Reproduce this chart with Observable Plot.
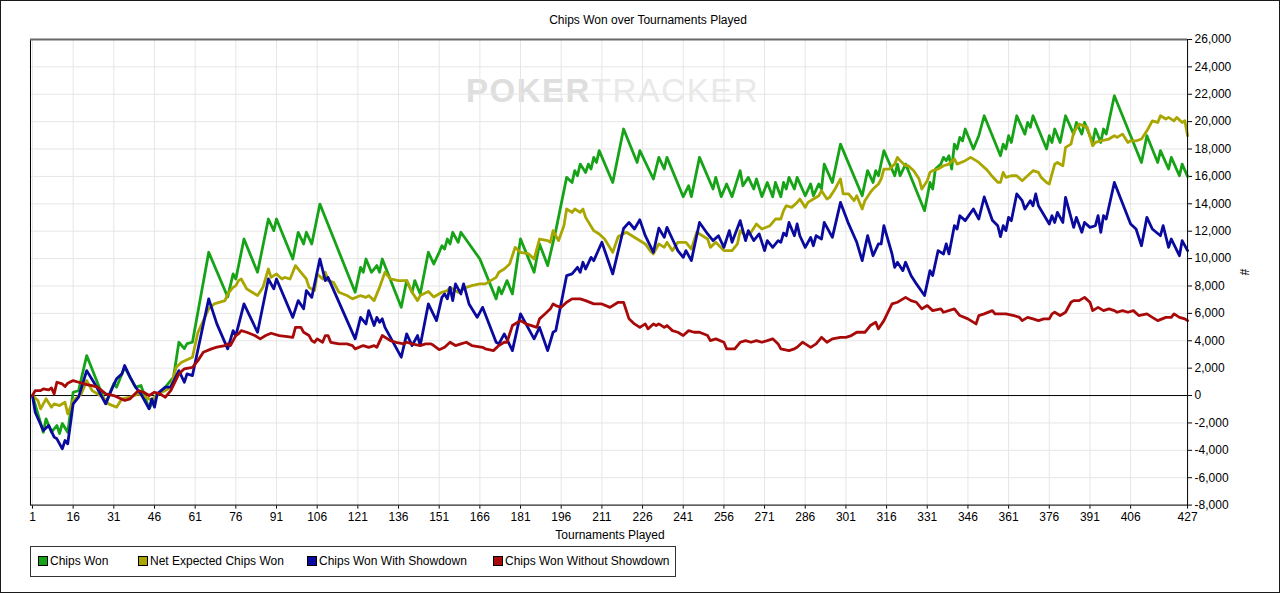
<!DOCTYPE html>
<html><head><meta charset="utf-8">
<script src="https://cdn.jsdelivr.net/npm/d3@7"></script>
<script src="https://cdn.jsdelivr.net/npm/@observablehq/plot@0.6"></script>
<style>
html,body{margin:0;padding:0;background:#fff;}
#wrap{position:relative;width:1280px;height:593px;box-sizing:border-box;border:1px solid #1a1a1a;overflow:hidden;font-family:"Liberation Sans",Arial,sans-serif;color:#000;background:#fff;}
#chart{position:absolute;left:-1px;top:-1px;}
#wm{position:absolute;left:465px;top:73px;font-size:33px;color:#dedede;letter-spacing:1.5px;white-space:nowrap;line-height:33px;}
#wm .b{font-weight:bold;}
#wm .l{color:#e9e9e9;}
#title{position:absolute;left:0;top:12px;width:1294px;text-align:center;font-size:12px;}
#xlabel{position:absolute;left:0;top:527px;width:1218px;text-align:center;font-size:12px;}
#ylabel{position:absolute;left:1240px;top:264px;font-size:12px;transform:rotate(90deg);}
#legend{position:absolute;left:29px;top:545px;width:646px;height:31px;box-sizing:border-box;border:1px solid #333;font-size:12px;}
.item{position:absolute;top:8px;white-space:nowrap;line-height:13px;}
.sw{display:inline-block;width:8px;height:8px;border:1px solid #000;margin-right:2px;vertical-align:-1px;}
</style></head><body>
<div id="wrap">
  <div id="wm"><span class="b">POKER</span><span class="l">TRACKER</span></div>
  <div id="chart"></div>
  <div id="title">Chips Won over Tournaments Played</div>
  <div id="xlabel">Tournaments Played</div>
  <div id="ylabel">#</div>
  <div id="legend"></div>
</div>
<script>
// ---- data: [tournament, chips] ----
const chipsWon = [[1,0],[5,-2680],[6,-1700],[8,-2680],[10,-2190],[11,-2770],[12,-2040],[14,-2680],[16,240],[18,360],[21,2920],[28,-580],[31,880],[32,610],[35,2060],[36,1700],[39,610],[41,730],[44,-950],[47,0],[50,610],[53,1340],[55,3890],[57,3430],[58,3790],[60,3890],[66,10460],[73,7200],[75,8880],[76,8510],[79,11430],[84,9000],[88,12890],[90,12040],[91,12890],[97,9970],[99,11920],[101,11070],[102,11920],[104,11070],[107,13980],[120,7540],[122,9360],[123,9000],[124,9970],[126,9000],[128,9490],[129,9000],[130,9970],[137,6440],[139,8390],[141,7540],[142,8390],[144,7420],[147,10460],[149,9610],[151,10460],[152,10940],[153,10700],[154,11430],[155,11070],[156,11920],[158,11190],[159,11920],[166,9970],[172,7060],[173,7900],[174,7420],[176,8390],[178,7420],[181,11430],[186,9000],[188,11070],[191,9490],[194,12040],[198,15930],[200,15560],[201,16420],[202,16050],[203,16900],[205,16290],[206,16900],[207,16540],[208,17390],[209,17020],[210,17880],[215,15560],[219,19460],[224,17020],[225,17880],[230,15810],[232,17390],[234,16540],[235,17390],[241,14520],[243,15320],[244,14520],[247,17390],[252,15080],[253,15930],[255,14520],[257,15450],[259,14520],[262,16420],[263,15320],[265,15930],[267,15080],[268,15810],[270,14520],[272,15560],[274,14520],[275,15560],[277,14520],[278,15560],[279,15080],[280,15930],[282,15080],[283,15930],[286,14590],[288,15450],[289,14590],[291,15450],[292,15080],[293,16900],[296,15560],[299,18360],[307,14590],[309,16420],[311,15560],[312,16420],[313,16050],[315,17880],[319,16050],[320,16900],[321,16050],[323,16900],[330,13500],[332,15560],[333,15080],[334,16540],[336,16900],[337,17390],[338,17150],[339,17510],[340,16540],[341,18360],[342,18000],[343,18850],[344,18600],[345,19460],[348,18000],[350,18970],[352,20430],[358,17510],[359,18360],[360,18000],[361,18970],[362,18480],[364,20430],[367,19090],[368,19940],[369,19580],[370,20430],[375,18000],[376,18970],[377,18480],[378,19460],[380,18480],[382,20430],[385,19090],[386,19940],[388,19090],[389,19940],[392,18480],[393,19460],[395,18480],[396,19460],[397,19090],[400,21890],[410,17020],[412,18970],[416,17020],[417,17880],[420,16540],[421,17390],[424,16050],[425,16900],[427,16000]];

const netExpected = [[1,0],[3,-360],[4,-970],[6,-240],[8,-850],[9,-610],[11,-730],[13,-490],[14,-1340],[16,-360],[19,120],[21,1090],[23,360],[24,240],[27,-120],[29,-610],[32,-850],[34,-240],[37,-120],[40,120],[43,-120],[45,-360],[47,120],[50,360],[52,610],[54,2060],[56,2430],[60,2800],[62,4600],[66,6330],[68,6690],[72,6930],[73,7420],[75,7900],[76,8030],[77,8390],[78,8510],[80,7790],[82,7540],[84,7300],[86,7900],[88,9240],[89,8630],[91,8880],[93,8510],[94,8630],[96,8510],[98,9490],[100,9000],[102,8510],[103,7900],[105,7660],[106,8880],[108,8510],[109,9000],[110,8390],[112,8270],[114,7540],[117,7300],[119,7060],[122,7300],[124,7170],[125,7300],[127,6930],[129,7900],[131,9000],[133,8510],[136,8390],[139,8390],[141,7540],[143,6930],[144,7300],[147,7600],[149,7200],[152,7540],[154,7660],[155,7900],[158,7540],[161,7900],[163,8030],[166,8150],[168,8150],[170,8390],[172,8630],[173,9000],[175,9240],[177,9610],[179,10820],[181,10460],[184,10340],[186,9970],[188,11430],[191,11310],[192,11190],[193,12040],[195,11310],[197,12400],[198,13620],[200,13370],[201,13620],[203,13370],[204,13620],[205,13010],[208,12040],[210,11800],[212,11430],[215,10460],[217,11600],[220,11920],[224,11430],[227,11070],[229,10520],[230,10340],[232,11070],[234,10820],[235,11190],[237,10580],[239,11190],[242,11190],[244,10700],[246,11920],[250,11430],[251,10820],[253,11190],[256,10580],[259,10580],[261,11070],[262,12040],[264,11670],[266,11920],[268,12530],[270,12160],[273,12400],[275,12890],[277,12890],[278,13500],[279,13860],[281,13740],[283,14100],[284,14350],[286,13740],[287,14100],[289,14350],[291,14590],[292,14960],[294,14350],[295,14470],[297,15080],[298,15450],[299,15810],[300,14720],[302,14720],[304,14230],[305,14590],[307,13620],[308,14230],[310,14830],[311,15080],[313,15450],[314,15810],[315,16540],[317,16540],[319,16900],[320,17390],[321,17150],[323,16780],[324,16780],[326,16420],[328,15810],[329,15080],[331,15690],[332,16290],[333,16420],[335,16540],[337,16780],[339,16900],[341,17270],[342,16900],[345,17150],[347,17390],[349,17150],[350,17020],[353,16480],[355,15990],[357,15570],[358,15560],[359,16290],[360,15930],[362,16050],[364,16050],[366,15690],[368,16050],[370,16420],[372,16290],[373,15930],[375,15560],[376,15450],[378,16900],[379,17020],[381,16780],[382,18120],[384,18360],[385,19210],[387,19820],[390,19580],[392,18240],[393,18480],[395,18600],[398,18730],[400,18970],[401,18850],[403,19090],[405,18480],[406,18600],[408,18600],[410,18730],[412,19330],[414,20060],[416,19940],[417,20430],[419,20190],[420,20310],[422,20060],[423,20310],[425,19940],[426,20060],[427,18970]];

const withShowdown = [[1,0],[2,-1220],[5,-2550],[7,-2190],[9,-3040],[10,-3160],[12,-3890],[13,-3280],[14,-3520],[16,-610],[18,-120],[21,1820],[24,850],[28,-610],[30,360],[32,1220],[34,1580],[35,2190],[37,1340],[39,610],[41,120],[44,-970],[45,-240],[46,-850],[47,120],[50,610],[52,610],[55,1820],[57,970],[58,1580],[60,1460],[66,7060],[69,5230],[73,3410],[75,4740],[76,4380],[79,6690],[84,4620],[88,8510],[90,7790],[91,8510],[97,5710],[99,6930],[101,6330],[102,7660],[104,7170],[107,9970],[109,8390],[110,8630],[120,4140],[122,5710],[124,5230],[125,6200],[127,5110],[128,5710],[129,5350],[130,5600],[131,4980],[137,2800],[139,4500],[141,3650],[143,4380],[144,3650],[147,6690],[150,5470],[152,7170],[153,7420],[154,7060],[155,7900],[156,6930],[157,8150],[159,7420],[160,8150],[162,6690],[165,5710],[167,6440],[172,3890],[173,3770],[175,4500],[178,3280],[181,5960],[186,4140],[188,4980],[191,3280],[193,4620],[194,4740],[198,8760],[200,8880],[202,9360],[203,9000],[204,9730],[205,9240],[207,10090],[208,9850],[211,11190],[215,8880],[219,12200],[221,12640],[223,12160],[225,12830],[227,11670],[230,10460],[232,12220],[234,11550],[235,12280],[237,11430],[239,10580],[241,10090],[242,10580],[244,9850],[247,12640],[250,11800],[252,11310],[254,11670],[256,10820],[258,12040],[259,11190],[262,12770],[264,11310],[265,12040],[267,11310],[269,11800],[271,10580],[272,11310],[274,10820],[276,11310],[277,11190],[278,11860],[279,11670],[280,12640],[282,11670],[283,12530],[284,11670],[286,10820],[288,11550],[289,10940],[290,11670],[292,11430],[293,12640],[296,11550],[299,14100],[302,12530],[305,11190],[307,9850],[309,11670],[311,10210],[313,11070],[314,11070],[315,12400],[318,10340],[319,9360],[320,9730],[322,9120],[323,9730],[325,8760],[327,8150],[330,7300],[332,9120],[333,8760],[335,10580],[337,10340],[338,11070],[339,10340],[341,12400],[342,12160],[343,13130],[345,12770],[348,13620],[350,12890],[352,14500],[354,13370],[355,12800],[357,12400],[358,11600],[359,12400],[360,12040],[361,13010],[362,12770],[364,14720],[366,14230],[367,13620],[369,14230],[370,13860],[371,14720],[372,13860],[376,12530],[377,13130],[378,12640],[379,13370],[381,12640],[382,14470],[385,12280],[386,13010],[388,11920],[389,12640],[391,12280],[393,12400],[394,13130],[395,11920],[396,13130],[397,12890],[400,15560],[406,12530],[408,12160],[410,10940],[412,13010],[414,12160],[417,11670],[418,12400],[420,10820],[421,11430],[424,10210],[425,11310],[427,10580]];

const withoutShowdown = [[1,0],[2,360],[4,360],[5,490],[7,420],[8,560],[9,120],[10,970],[12,850],[13,660],[14,900],[16,1090],[18,970],[21,800],[23,730],[25,610],[28,120],[31,0],[35,-360],[37,-240],[40,360],[42,240],[44,0],[46,240],[48,120],[50,-120],[52,360],[55,1580],[57,1950],[60,2060],[62,2550],[64,3160],[67,3410],[69,3530],[72,3650],[73,3770],[74,3650],[76,4380],[77,4500],[78,4740],[80,4620],[83,4380],[85,4140],[87,4380],[89,4550],[92,4380],[95,4300],[97,4250],[98,4980],[100,4980],[101,4620],[103,4380],[104,4010],[105,3890],[106,4140],[108,3890],[109,4380],[110,4380],[111,3890],[114,3770],[117,3770],[119,3650],[120,3410],[123,3650],[125,3520],[127,3650],[128,3520],[130,4380],[133,4010],[135,3890],[138,3770],[139,3890],[141,3770],[144,3650],[146,3770],[148,3770],[149,3650],[151,3350],[153,3520],[155,3890],[157,3650],[159,3770],[161,3890],[163,3650],[167,3520],[168,3410],[171,3280],[173,3650],[175,3890],[176,3890],[178,5110],[180,5350],[181,5470],[183,5230],[185,5110],[187,4980],[188,5600],[190,5960],[192,6330],[193,6690],[194,6570],[196,6440],[198,6810],[200,7060],[203,7060],[205,6930],[208,6690],[211,6690],[214,6440],[217,6810],[219,6810],[221,5600],[223,5230],[225,4980],[227,5230],[228,4870],[230,5230],[231,5110],[232,5230],[234,4980],[235,5110],[237,4740],[239,4620],[241,4380],[243,4740],[245,4620],[247,4620],[250,4380],[251,4010],[253,4140],[256,3890],[257,3410],[260,3410],[262,3890],[264,4010],[266,3890],[268,4010],[270,3890],[272,4010],[274,4140],[276,3770],[277,3410],[280,3280],[282,3410],[283,3520],[285,3890],[286,3770],[288,3520],[290,3770],[292,4250],[294,3890],[296,4140],[299,4250],[301,4250],[303,4380],[305,4620],[308,4620],[310,5110],[312,5350],[313,4870],[315,5470],[318,6690],[320,6810],[321,6930],[323,7170],[325,6930],[327,6810],[329,6330],[331,6570],[333,6200],[336,6330],[337,6080],[341,6330],[343,5840],[346,5600],[349,5230],[350,5840],[352,5960],[355,6200],[356,5960],[360,5960],[363,5840],[365,5710],[366,5470],[368,5710],[370,5600],[372,5470],[374,5600],[376,5600],[377,5960],[378,6080],[380,5840],[382,6080],[384,6810],[385,6930],[387,6930],[389,7170],[391,6810],[392,6200],[394,6440],[396,6200],[398,6330],[400,6200],[401,6080],[403,6200],[405,6080],[407,6200],[409,5840],[412,5960],[414,5710],[416,5470],[419,5710],[421,5710],[422,5960],[424,5710],[426,5600],[427,5470]];

const seriesNames = ["Chips Won", "Net Expected Chips Won", "Chips Won With Showdown", "Chips Won Without Showdown"];
const seriesColors = ["#17a317", "#aaa600", "#0a0a9e", "#a80a0a"];
const xTicks = [1,16,31,46,61,76,91,106,121,136,151,166,181,196,211,226,241,256,271,286,301,316,331,346,361,376,391,406,427];
const yTicks = [-8000,-6000,-4000,-2000,0,2000,4000,6000,8000,10000,12000,14000,16000,18000,20000,22000,24000,26000];

// ---- build ----
const seriesData = [chipsWon, netExpected, withShowdown, withoutShowdown];
const rows = seriesData.flatMap((arr, i) => arr.map(([t, v]) => ({series: seriesNames[i], t, v})));
const fmt = d3.format(",");
const yFmt = d => (d < 0 ? "-" : "") + fmt(Math.abs(d));

const chart = Plot.plot({
  width: 1280, height: 593,
  marginLeft: 30, marginRight: 92, marginTop: 39, marginBottom: 88,
  style: {fontFamily: "'Liberation Sans', Arial, sans-serif", fontSize: "12px", background: "transparent", color: "#000"},
  x: {domain: [1, 427], insetLeft: 2, ticks: xTicks, tickSize: 4, tickPadding: 3, tickFormat: d => String(d), label: null},
  y: {domain: [-8000, 26000], axis: "right", ticks: yTicks, tickSize: 4, tickPadding: 3, tickFormat: yFmt, label: null},
  color: {domain: seriesNames, range: seriesColors},
  marks: [
    Plot.ruleX(xTicks, {stroke: "#e6e6e6", strokeWidth: 1}),
    Plot.ruleY(yTicks, {stroke: "#e6e6e6", strokeWidth: 1}),
    Plot.ruleY([0], {stroke: "#000", strokeWidth: 1}),
    Plot.line(rows, {x: "t", y: "v", z: "series", stroke: "series", strokeWidth: 2.8, strokeLinejoin: "round", strokeLinecap: "round"}),
    Plot.frame({stroke: "#000", strokeWidth: 1}),
    Plot.ruleY([26000], {stroke: "#6a6a6a", strokeWidth: 2})
  ]
});
document.getElementById("chart").appendChild(chart);

// legend
const legendPos = [7, 107, 276, 462];
const legend = document.getElementById("legend");
seriesNames.forEach((name, i) => {
  const it = document.createElement("div");
  it.className = "item";
  it.style.left = legendPos[i] + "px";
  it.innerHTML = `<span class="sw" style="background:${seriesColors[i]}"></span>${name}`;
  legend.appendChild(it);
});
</script>
</body></html>
